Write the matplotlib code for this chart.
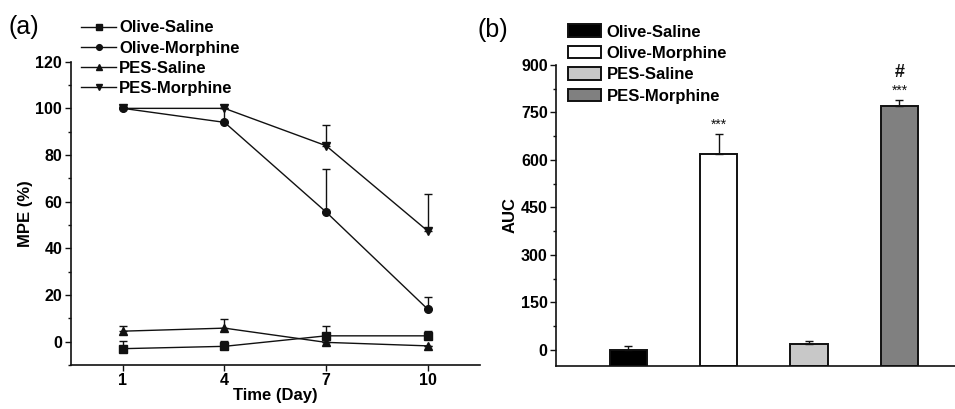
import matplotlib
matplotlib.use("Agg")
import matplotlib.pyplot as plt
import numpy as np
from matplotlib.ticker import MultipleLocator, FixedLocator

plt.rcParams['font.family'] = ['Liberation Sans', 'DejaVu Sans']

# ---- Panel (a) data ----
days = [1, 4, 7, 10]
olive_saline = [-3.0, -2.0, 2.5, 2.5]
olive_saline_err = [3.5, 2.5, 4.2, 2.0]
olive_morphine = [100.0, 94.0, 55.6, 14.0]
olive_morphine_err = [0.0, 6.0, 18.4, 5.2]
pes_saline = [4.5, 5.8, -0.3, -1.8]
pes_saline_err = [2.2, 3.8, 0.0, 0.0]
pes_morphine = [100.0, 100.0, 84.0, 47.5]
pes_morphine_err = [0.0, 0.0, 8.7, 15.6]
line_labels = ["Olive-Saline", "Olive-Morphine", "PES-Saline", "PES-Morphine"]

# ---- Panel (b) data ----
groups = ["Olive-Saline", "Olive-Morphine", "PES-Saline", "PES-Morphine"]
auc = [0.0, 618.0, 19.0, 771.0]
auc_err = [13.0, 63.0, 9.0, 19.0]
auc_marks = ["", "***", "", "***"]
hash_marks = ["", "", "", "#"]
bar_colors = ["#000000", "#ffffff", "#c8c8c8", "#808080"]
auc_ymin, auc_ymax = -50, 900

W, H = 955, 409
fig = plt.figure(figsize=(W / 100, H / 100), dpi=100)

ink = "#111111"

def fx(px):
    return px / W

def fy(py):
    return 1 - py / H

# ---------- Panel (a) ----------
ax1 = fig.add_axes([fx(70.5), fy(365), fx(480 - 70.5), (365 - 61.7) / H])
series = [
    (olive_saline, olive_saline_err, "s"),
    (olive_morphine, olive_morphine_err, "o"),
    (pes_saline, pes_saline_err, "^"),
    (pes_morphine, pes_morphine_err, "v"),
]
handles = []
for (vals, errs, mk), lab in zip(series, line_labels):
    vals = np.array(vals)
    errs = np.array(errs)
    ax1.errorbar(days, vals, yerr=[np.zeros_like(errs), errs], fmt="none",
                 ecolor=ink, elinewidth=1.0, capsize=2.6, capthick=1.0, zorder=2)
    h, = ax1.plot(days, vals, color=ink, lw=1.0, marker=mk, ms=5.5,
                  mfc=ink, mec=ink, label=lab, zorder=3)
    handles.append(h)

ax1.set_xlim(-0.55, 11.55)
ax1.set_ylim(-10, 120)
ax1.xaxis.set_major_locator(FixedLocator(days))
ax1.yaxis.set_major_locator(MultipleLocator(20))
ax1.yaxis.set_minor_locator(MultipleLocator(10))
ax1.set_ylabel("MPE (%)", fontsize=12, fontweight="bold", labelpad=2)
ax1.set_xlabel("Time (Day)", fontsize=12, fontweight="bold", labelpad=0)

leg1 = fig.legend(handles=handles, loc="upper left",
                  bbox_to_anchor=(fx(81), fy(20.5)), frameon=False,
                  prop={"size": 12, "weight": "bold"}, handlelength=2.1,
                  handletextpad=0.2, labelspacing=0.31, borderpad=0,
                  borderaxespad=0, markerscale=0.75)

# ---------- Panel (b) ----------
ax2 = fig.add_axes([fx(556), fy(365.7), fx(955 - 556) + 0.01, (365.7 - 65) / H])
xpos = np.arange(1, len(groups) + 1)
heights = [v - auc_ymin for v in auc]
bars = ax2.bar(xpos, heights, bottom=auc_ymin, width=0.415, color=bar_colors,
               edgecolor=ink, linewidth=1.4, zorder=2)
ax2.errorbar(xpos, auc, yerr=[np.zeros(len(auc_err)), auc_err], fmt="none",
             ecolor=ink, elinewidth=1.0, capsize=2.6, capthick=1.0, zorder=3)
for x, v, e, m, hm in zip(xpos, auc, auc_err, auc_marks, hash_marks):
    if m:
        ax2.text(x, v + e + 8, m, ha="center", va="bottom", fontsize=10,
                 color=ink)
    if hm:
        ax2.text(x, v + e + 58, hm, ha="center", va="bottom", fontsize=13,
                 fontweight="bold", color=ink)

ax2.set_xlim(0.2, 4.72)
ax2.set_ylim(auc_ymin, auc_ymax)
ax2.yaxis.set_major_locator(MultipleLocator(150))
ax2.yaxis.set_minor_locator(MultipleLocator(75))
ax2.set_xticks([])
ax2.set_ylabel("AUC", fontsize=12, fontweight="bold", labelpad=2)

leg2 = fig.legend(handles=list(bars), labels=groups, loc="upper left",
                  bbox_to_anchor=(fx(567.5), fy(24.5)), frameon=False,
                  prop={"size": 12, "weight": "bold"}, handlelength=2.0,
                  handleheight=0.78, handletextpad=0.36, labelspacing=0.38,
                  borderpad=0, borderaxespad=0)

for ax in (ax1, ax2):
    for s in ("top", "right"):
        ax.spines[s].set_visible(False)
    for s in ("left", "bottom"):
        ax.spines[s].set_linewidth(1.2)
        ax.spines[s].set_color(ink)
    ax.tick_params(axis="both", which="major", direction="out", length=4,
                   width=1.0, labelsize=11.5, color=ink, pad=2)
    ax.tick_params(axis="both", which="minor", direction="out", length=2.5,
                   width=1.0, color=ink)
    for lbl in ax.get_xticklabels() + ax.get_yticklabels():
        lbl.set_fontweight("bold")
ax1.tick_params(axis="x", which="minor", length=0)

fig.text(fx(8), fy(27), "(a)", fontsize=18, ha="left", va="center")
fig.text(fx(477), fy(30), "(b)", fontsize=18, ha="left", va="center")

fig.savefig("out.png", dpi=100)
